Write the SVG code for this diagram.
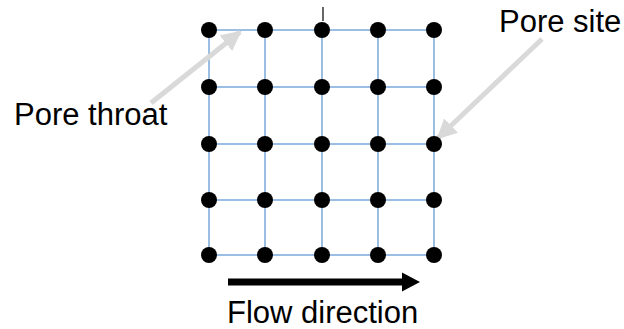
<svg xmlns="http://www.w3.org/2000/svg" width="624" height="329" viewBox="0 0 624 329">
<style>
.grid line{stroke:#7aa9dc;stroke-width:1.5}
.site{fill:#000}
.lbl{font-family:"Liberation Sans",Arial,sans-serif;font-size:31px;fill:#000}
.call{stroke:#d9d9d9;stroke-width:5;fill:none}
</style>
<defs>
<marker id="gh" viewBox="0 0 10 10" refX="9" refY="5" markerWidth="4" markerHeight="4" orient="auto" markerUnits="strokeWidth">
<path d="M0,0 L10,5 L0,10 z" fill="#d9d9d9"/>
</marker>
</defs>
<g id="connectors">
<g class="grid">
<line x1="209" y1="30" x2="434" y2="30"/>
<line x1="209" y1="87" x2="434" y2="87"/>
<line x1="209" y1="144" x2="434" y2="144"/>
<line x1="209" y1="200" x2="434" y2="200"/>
<line x1="209" y1="255" x2="434" y2="255"/>
<line x1="209" y1="30" x2="209" y2="255"/>
<line x1="265" y1="30" x2="265" y2="255"/>
<line x1="322" y1="30" x2="322" y2="255"/>
<line x1="378" y1="30" x2="378" y2="255"/>
<line x1="434" y1="30" x2="434" y2="255"/>
</g>
<line x1="323" y1="7" x2="323" y2="21" stroke="#000" stroke-width="1.2"/>
<line class="call" x1="151" y1="103" x2="240" y2="32" marker-end="url(#gh)"/>
<line class="call" x1="542" y1="39" x2="438" y2="138" marker-end="url(#gh)"/>
<g id="flow">
<line x1="228" y1="282" x2="404" y2="282" stroke="#000" stroke-width="7"/>
<polygon points="402,272.5 420,282 402,291.5" fill="#000"/>
</g>
</g>
<g id="sites">
<g id="r1"><circle class="site" cx="209" cy="30" r="8"/><circle class="site" cx="265" cy="30" r="8"/><circle class="site" cx="322" cy="30" r="8"/><circle class="site" cx="378" cy="30" r="8"/><circle class="site" cx="434" cy="30" r="8"/></g>
<g id="r2"><circle class="site" cx="209" cy="87" r="8"/><circle class="site" cx="265" cy="87" r="8"/><circle class="site" cx="322" cy="87" r="8"/><circle class="site" cx="378" cy="87" r="8"/><circle class="site" cx="434" cy="87" r="8"/></g>
<g id="r3"><circle class="site" cx="209" cy="144" r="8"/><circle class="site" cx="265" cy="144" r="8"/><circle class="site" cx="322" cy="144" r="8"/><circle class="site" cx="378" cy="144" r="8"/><circle class="site" cx="434" cy="144" r="8"/></g>
<g id="r4"><circle class="site" cx="209" cy="200" r="8"/><circle class="site" cx="265" cy="200" r="8"/><circle class="site" cx="322" cy="200" r="8"/><circle class="site" cx="378" cy="200" r="8"/><circle class="site" cx="434" cy="200" r="8"/></g>
<g id="r5"><circle class="site" cx="209" cy="255" r="8"/><circle class="site" cx="265" cy="255" r="8"/><circle class="site" cx="322" cy="255" r="8"/><circle class="site" cx="378" cy="255" r="8"/><circle class="site" cx="434" cy="255" r="8"/></g>
</g>
<g id="labels">
<text id="pore-site" class="lbl" x="499" y="32">Pore site</text>
<text id="pore-throat" class="lbl" x="14" y="125">Pore throat</text>
<text id="flow-direction" class="lbl" x="227" y="323">Flow direction</text>
</g>
</svg>
